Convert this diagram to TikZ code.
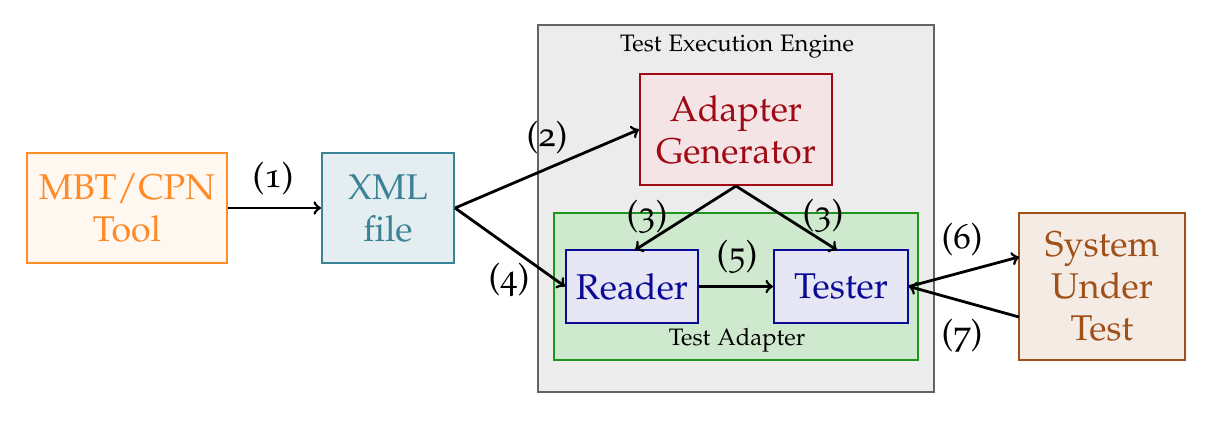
\documentclass[tikz,border=0pt]{standalone}
\usepackage[T1]{fontenc}
\usepackage[osf]{mathpazo}
\usetikzlibrary{calc}
\definecolor{orgB}{RGB}{255,138,40}
\definecolor{orgF}{RGB}{255,248,240}
\definecolor{tealB}{RGB}{60,130,150}
\definecolor{tealF}{RGB}{228,238,241}
\definecolor{grayB}{RGB}{100,100,100}
\definecolor{grayF}{RGB}{236,236,236}
\definecolor{redB}{RGB}{160,10,20}
\definecolor{redF}{RGB}{245,228,230}
\definecolor{grnB}{RGB}{30,150,30}
\definecolor{grnF}{RGB}{207,233,207}
\definecolor{bluB}{RGB}{10,10,150}
\definecolor{bluF}{RGB}{230,230,245}
\definecolor{brnB}{RGB}{160,80,25}
\definecolor{brnF}{RGB}{245,235,229}
\tikzset{
  box/.style={draw, line width=1.05pt, inner sep=0pt, align=center,
    font=\fontsize{17.9}{21}\selectfont},
  grp/.style={draw, line width=1.05pt, inner sep=0pt},
  small/.style={font=\fontsize{11.9}{14}\selectfont, inner sep=0pt},
  lab/.style={font=\fontsize{17.5}{20}\selectfont, inner sep=0pt},
  conn/.style={->, line width=1.4pt},
}
\begin{document}
\begin{tikzpicture}[x=0.5pt, y=-0.5pt]
\useasboundingbox (0,0) rectangle (1216,422);
% groups
\node[grp, draw=grayB, fill=grayF, minimum width=198pt, minimum height=183.5pt] (tee) at (736,208.5) {};
\node[small] (teel) at (737,47) {Test Execution Engine};
\node[grp, draw=grnB, fill=grnF, minimum width=182pt, minimum height=73.5pt] (ta) at (736,286.5) {};
\node[small] (tal) at (737,340) {Test Adapter};
% boxes
\node[box, draw=orgB, fill=orgF, text=orgB, minimum width=100pt, minimum height=55pt] (mbt) at (127,208) {MBT/CPN\\Tool};
\node[box, draw=tealB, fill=tealF, text=tealB, minimum width=66pt, minimum height=55pt] (xml) at (388,208) {XML\\file};
\node[box, draw=redB, fill=redF, text=redB, minimum width=96pt, minimum height=55.5pt] (ag) at (736,129.5) {Adapter\\Generator};
\node[box, draw=bluB, fill=bluF, text=bluB, minimum width=66pt, minimum height=36.5pt] (rd) at (632,286.5) {Reader};
\node[box, draw=bluB, fill=bluF, text=bluB, minimum width=67pt, minimum height=36.5pt] (ts) at (841,286.5) {Tester};
\node[box, draw=brnB, fill=brnF, text=brnB, minimum width=83pt, minimum height=73.5pt] (sut) at (1102,286.5) {System\\Under\\Test};
\coordinate (s6) at (1019,257);
\coordinate (s7) at (1019,317);
\coordinate (rdt) at (635,250);
\coordinate (tst) at (837,250);
% connectors
\draw[conn] (mbt.east) -- (xml.west);
\draw[conn] (xml.east) -- (ag.west);
\draw[conn] (xml.east) -- (rd.west);
\draw[conn] (ag.south) -- (rdt);
\draw[conn] (ag.south) -- (tst);
\draw[conn] (rd.east) -- (ts.west);
\draw[conn] (ts.east) -- (s6);
\draw[conn] (s7) -- (ts.east);
% labels
\node[lab] (l1) at (273,179) {(1)};
\node[lab] (l2) at (547,138) {(2)};
\node[lab] (l4) at (509,280) {(4)};
\node[lab] (l3a) at (647,217) {(3)};
\node[lab] (l3b) at (823,216) {(3)};
\node[lab] (l5) at (737,257) {(5)};
\node[lab] (l6) at (962,240) {(6)};
\node[lab] (l7) at (962,336) {(7)};
\end{tikzpicture}
\end{document}
